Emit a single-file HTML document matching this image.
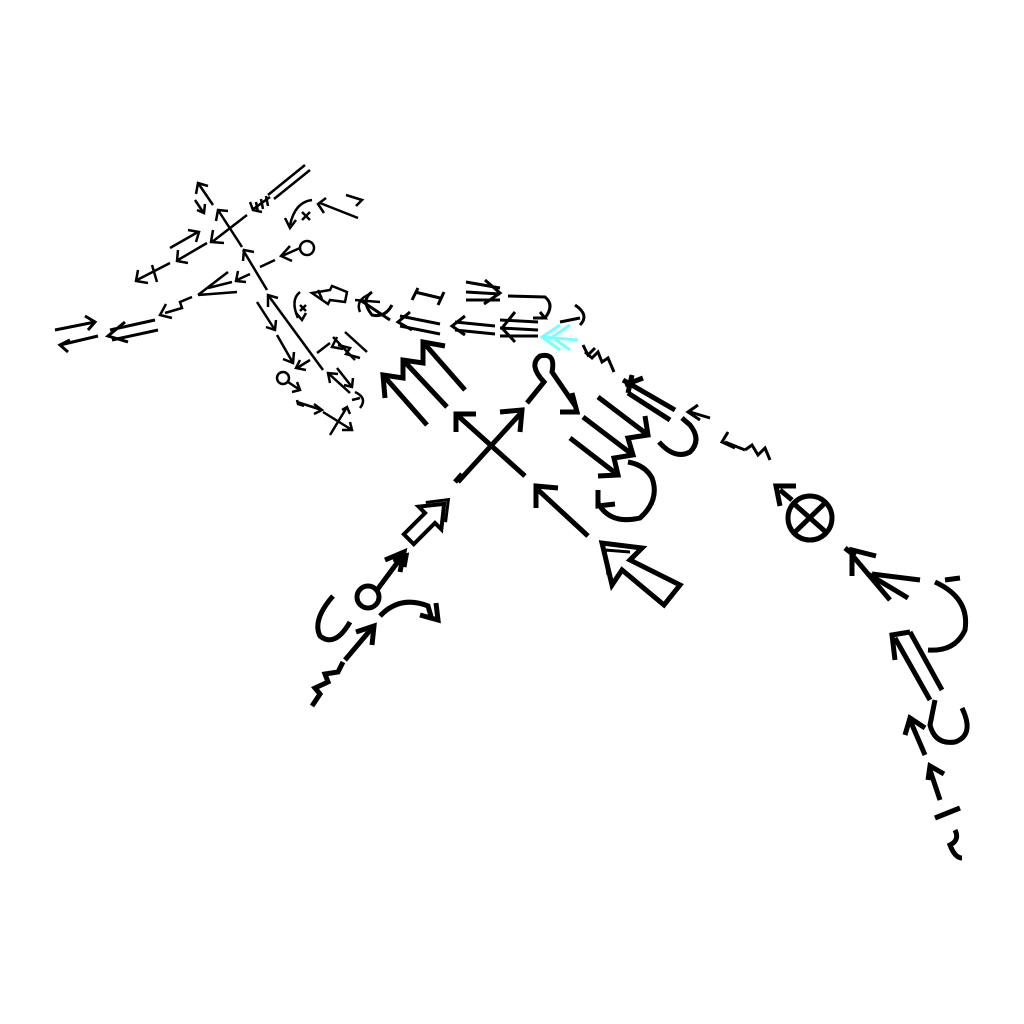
<!DOCTYPE html>
<html><head><meta charset="utf-8"><style>html,body{margin:0;background:#fff}svg{display:block}</style></head>
<body>
<svg width="1024" height="1024" viewBox="0 0 1024 1024" xmlns="http://www.w3.org/2000/svg" fill="none" stroke="#000" stroke-linecap="butt" stroke-linejoin="miter">
<g stroke-width="5">
<path d="M458 482 L520 414"/><path d="M500 412 L522 410 L520 432"/>
<path d="M456 414 L525 476"/><path d="M456 432 L456 414 L476 414"/>
<path d="M588 536 L536 488"/><path d="M536 508 L536 486 L558 488"/>
<path d="M680 585 L664 605 L622 570 L612 585 L602 543 L642 548 L630 560 Z" stroke-width="5"/>
<path d="M608 575 L605 550 L630 552" stroke-width="3"/>
<g transform="translate(430,518) rotate(45)">
<path d="M-7 30 L7 30 L7 0 L16 0 L0 -20 L-16 0 L-7 0 Z" stroke-width="4"/>
<path d="M-14 -8 L0 -26 L14 -8" stroke-width="3"/>
</g>
<path d="M455 482 L462 474"/>
<path d="M377 590 L403 555"/><path d="M385 560 L404 552 L400 572"/><path d="M393 560 L406 556 L404 567"/>
<circle cx="368" cy="597" r="11"/>
<path d="M333 596 Q312 620 320 636 Q335 648 350 622"/>
<path d="M380 616 Q400 595 428 606 L432 620"/><path d="M420 615 L438 620 L436 603"/>
<path d="M345 660 L372 628"/><path d="M356 632 L374 626 L372 645"/>
<path d="M312 706 L320 694 L315 688 L328 682 L325 674 L338 672 L343 662"/>
<!-- triple arrows left -->
<path d="M383 375 L427 425"/><path d="M403 360 L447 407"/><path d="M423 342 L465 390"/>
<path d="M385 398 L383 375 L403 378 L403 360 L423 363 L423 342 L445 346"/>
<!-- loop -->
<path d="M527 403 L544 382 Q528 365 540 356 Q556 352 552 372 L576 407"/>
<path d="M560 412 L577 412 L572 393"/>
<!-- right triple arrows -->
<path d="M570 438 L618 475"/><path d="M583 417 L633 455"/><path d="M598 397 L648 435"/>
<path d="M598 476 L618 475 L614 458 L633 455 L628 438 L648 435 L645 416"/>
<path d="M598 503 Q610 525 640 518 Q660 500 652 478 Q645 465 628 462"/>
<path d="M598 490 L598 506 L615 504"/>
<path d="M623 380 L675 410"/><path d="M628 393 L670 420"/><path d="M625 385 L643 378 M628 393 L632 375"/>
<path d="M659 442 Q675 460 690 452 Q702 440 690 425 L682 418"/>
<path d="M690 412 L710 418" stroke-width="3"/>
<circle cx="810" cy="518" r="22"/><path d="M792 502 L828 534"/><path d="M795 532 L825 503"/>
<path d="M780 490 L792 500"/><path d="M780 506 L776 486 L796 486"/>
<path d="M845 548 L855 556"/>
<path d="M868 574 L908 598"/><path d="M852 555 L890 600"/><path d="M852 576 L852 550 L876 556"/><path d="M872 574 L920 580"/>
<path d="M935 582 Q970 598 965 630 Q955 652 928 650"/><path d="M945 580 L960 578"/>
<path d="M895 638 L930 700"/><path d="M910 632 L942 690"/><path d="M895 660 L892 635 L910 632"/>
<path d="M935 700 L930 725 Q935 745 955 742 Q975 735 962 708"/>
<path d="M910 720 L925 755"/><path d="M905 735 L910 718 L925 728"/>
<path d="M930 770 L940 800"/><path d="M928 780 L930 766 L944 774"/>
<path d="M935 818 L960 808"/>
<path d="M955 830 Q960 840 950 845 Q955 858 962 858"/>
</g>
<g stroke-width="3">
<path d="M745 450 L752 445 L758 455 L765 448 L770 460"/><path d="M725 442 L745 450"/>
<path d="M728 432 L722 442 L735 448"/>
<path d="M698 405 L688 412 L700 420"/>
<path d="M585 352 L592 358 L598 352 L602 362 L608 358 L614 372"/><path d="M583 345 L588 355 L595 348"/>
<path d="M360 300 L390 320"/><path d="M372 292 Q360 300 372 315 Q385 318 392 305"/>
<path d="M400 316 L440 324"/><path d="M400 326 L440 334"/><path d="M410 312 L398 322 L412 330"/>
<path d="M455 322 L495 326"/><path d="M455 330 L495 334"/><path d="M465 316 L452 326 L465 335"/>
<path d="M500 320 L538 322"/><path d="M500 328 L538 330"/><path d="M500 336 L538 336"/><path d="M515 312 L502 328 L515 342"/>
<path d="M415 292 L440 298"/><path d="M412 300 L418 288"/><path d="M438 305 L444 292"/>
<path d="M466 282 L500 288"/><path d="M466 292 L500 294"/><path d="M466 300 L500 300"/><path d="M485 280 L500 293 L484 304"/>
<path d="M508 296 L545 297 Q555 305 545 318 L540 318"/><path d="M533 318 L545 318 L540 312"/>
<path d="M560 322 L580 318"/><path d="M575 305 Q590 315 580 325"/>
<path d="M110 330 L155 320"/><path d="M112 340 L158 330"/><path d="M125 322 L108 336 L128 342"/>
<path d="M55 330 L95 322"/><path d="M60 345 L98 336"/><path d="M85 316 L95 322 L88 330"/><path d="M70 340 L60 345 L68 352"/>
</g>
<g stroke="#7ff" stroke-width="3"><path d="M542 337 L578 340"/><path d="M560 325 L542 337 L560 350"/><path d="M570 325 L552 337 L570 350"/></g>
<g stroke-width="2.5">
<path d="M213 205 L198 183"/><path d="M196 194 L198 183 L208 186"/>
<path d="M195 200 L203 212"/><path d="M197 210 L204 213 L205 204"/>
<path d="M218 210 L242 247"/><path d="M216 221 L218 210 L228 211"/>
<path d="M243 250 L267 290"/><path d="M243 261 L244 250 L254 252"/>
<path d="M247 215 L212 242"/><path d="M213 230 L211 242 L224 243"/>
<path d="M252 210 L270 197"/><path d="M256 202 L258 212 M261 199 L263 209 M266 196 L268 206 M250 202 L253 210 L262 212"/>
<path d="M268 195 L305 165"/><path d="M274 199 L310 170"/>
<path d="M207 243 L178 260"/><path d="M178 250 L177 261 L188 263"/>
<path d="M170 248 L198 232"/><path d="M188 230 L199 232 L196 242"/>
<path d="M137 280 L170 263"/><path d="M138 270 L136 281 L148 283"/><path d="M152 265 L157 282"/>
<path d="M275 260 L260 267"/><path d="M237 280 L250 274"/>
<path d="M238 271 L236 281 L246 282"/>
<circle cx="307" cy="248" r="7"/><path d="M300 248 L282 256"/><path d="M290 246 L281 256 L292 261"/>
<path d="M312 200 Q295 202 290 225"/><path d="M285 218 L290 228 L296 220"/><path d="M302 212 L310 220 M310 212 L302 220"/>
<path d="M320 203 L358 218"/><path d="M326 198 L318 204 L324 213"/><path d="M346 195 L362 200 L356 206"/>
<path d="M198 295 L228 272"/><path d="M198 295 L237 292"/><path d="M208 288 L232 282"/>
<path d="M192 297 L180 302 L182 308 L165 313"/><path d="M166 304 L160 315 L172 318"/>
<path d="M312 293 L330 290 L332 286 L347 292 L345 302 L330 300 L328 304 Z"/><path d="M318 290 L322 299"/>
<path d="M370 294 Q355 300 360 312 M355 300 L380 302"/>
<path d="M300 292 Q290 300 298 318"/><path d="M300 305 L306 311 M306 305 L300 311"/><path d="M296 313 L302 320 L306 313"/>
<path d="M257 302 L275 330"/><path d="M266 327 L275 330 L276 320"/>
<path d="M277 335 L293 363"/><path d="M283 359 L293 363 L294 352"/>
<path d="M268 295 L323 370"/><path d="M268 307 L268 295 L278 298"/>
<path d="M328 373 L350 393"/><path d="M330 383 L328 373 L338 374"/>
<path d="M317 353 L330 343"/><path d="M297 368 L310 360"/><path d="M300 360 L296 368 L306 370"/>
<path d="M333 337 L355 360"/><path d="M345 332 L367 352"/><path d="M338 345 L350 348 L346 354 L360 358"/><path d="M337 337 L332 347 L343 349"/>
<circle cx="283" cy="378" r="6"/><path d="M288 382 L300 390"/><path d="M292 392 L300 390 L297 382"/>
<path d="M297 402 L322 410"/><path d="M297 400 L298 404 L304 406"/><path d="M314 404 L322 410 L314 414"/>
<path d="M323 412 L352 430"/><path d="M342 430 L352 430 L350 422"/>
<path d="M330 435 L347 407"/><path d="M342 410 L347 407 L350 414"/>
<path d="M355 392 Q368 398 360 408"/><path d="M352 400 L360 398"/>
<path d="M337 368 L352 387"/><path d="M344 385 L352 387 L353 378"/>
</g>
</svg>
</body></html>
